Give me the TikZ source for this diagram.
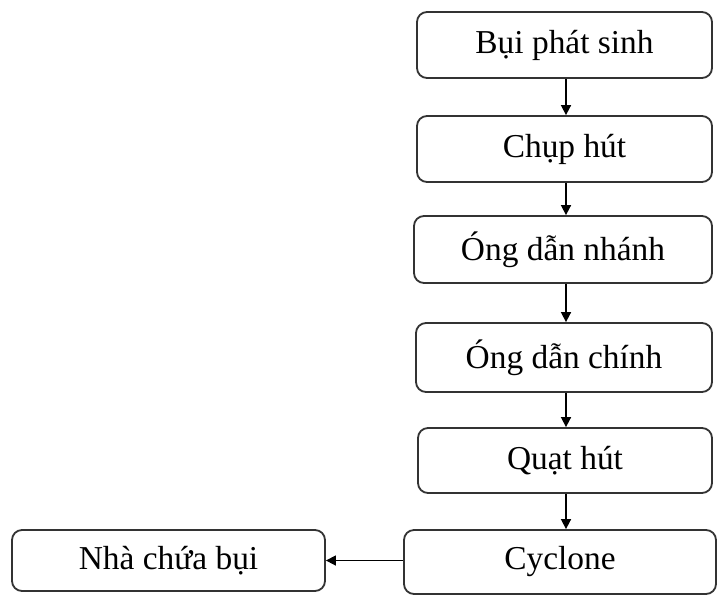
\documentclass[tikz,border=0pt]{standalone}
\usepackage{fontspec}
\setmainfont{Liberation Serif}
\usetikzlibrary{arrows.meta}
\begin{document}
\begin{tikzpicture}[x=0.5pt,y=-0.5pt,
  box/.style={draw=black!80, line width=0.9pt, rounded corners=5pt, inner sep=0pt,
    font=\fontsize{16.7}{20}\selectfont, text=black},
  arr/.style={draw=black, line width=0.8pt, -{Triangle[length=5pt,width=5pt]}}]
\useasboundingbox[fill=white] (0,0) rectangle (721,595);
\node[box, minimum width=147.5pt, minimum height=33pt] (b1) at (564.5,45) {Bụi phát sinh};
\node[box, minimum width=147.5pt, minimum height=33pt] (b2) at (564.5,149) {Chụp hút};
\node[box, minimum width=149pt, minimum height=33.5pt] (b3) at (563,249.5) {Óng dẫn nhánh};
\node[box, minimum width=148pt, minimum height=34.5pt] (b4) at (564,357.5) {Óng dẫn chính};
\node[box, minimum width=147pt, minimum height=32.5pt] (b5) at (565,460.5) {Quạt hút};
\node[box, minimum width=156pt, minimum height=32pt] (b6) at (560,562) {Cyclone};
\node[box, minimum width=156.5pt, minimum height=30.5pt] (b7) at (168.5,560.5) {Nhà chứa bụi};
\coordinate (ax) at (566,0);
\draw[arr] (b1.south -| ax) -- (b2.north -| ax);
\draw[arr] (b2.south -| ax) -- (b3.north -| ax);
\draw[arr] (b3.south -| ax) -- (b4.north -| ax);
\draw[arr] (b4.south -| ax) -- (b5.north -| ax);
\draw[arr] (b5.south -| ax) -- (b6.north -| ax);
\draw[arr] (b6.west |- b7) -- (b7.east);
\end{tikzpicture}
\end{document}
